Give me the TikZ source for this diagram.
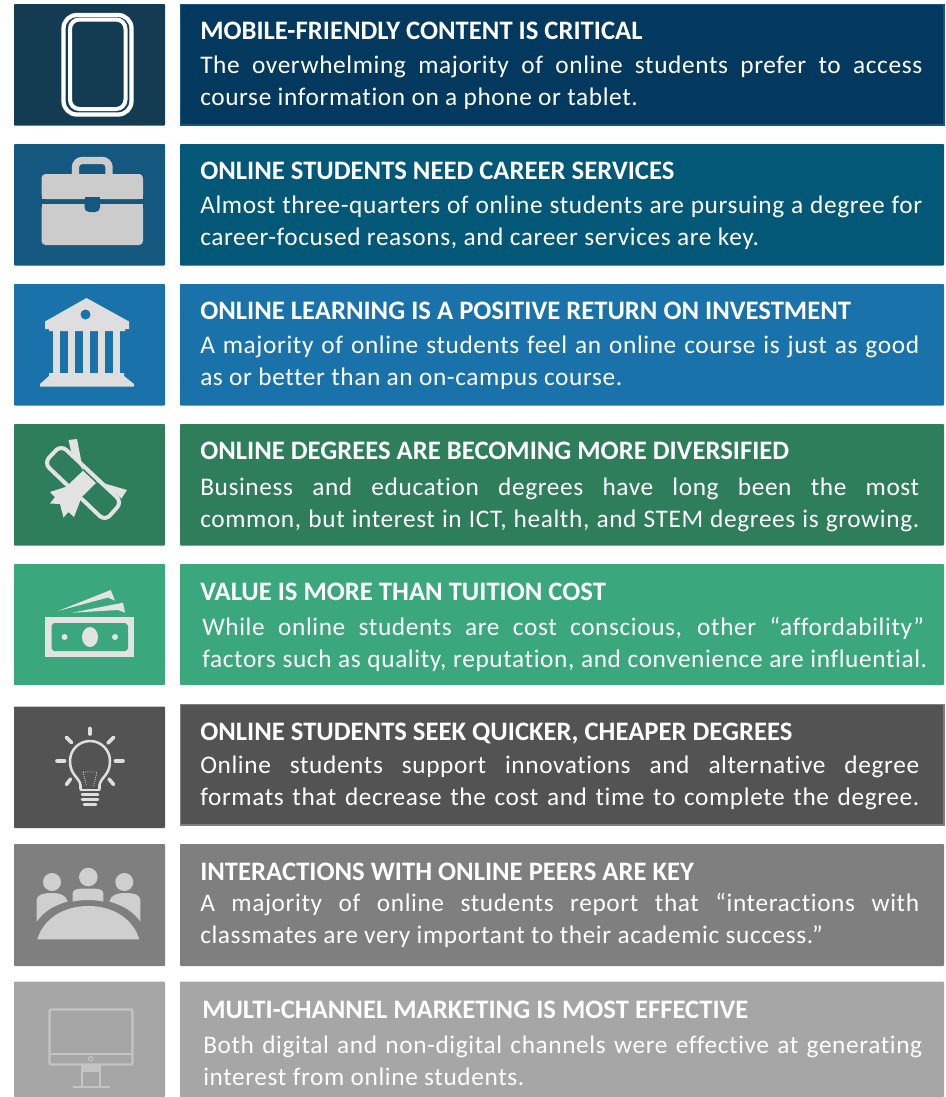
\documentclass[tikz,border=0pt]{standalone}
\usepackage{fontspec}
\setmainfont[Ligatures=NoCommon]{Carlito}
\newfontfamily\bodyf[LetterSpace=2.4,Ligatures=NoCommon]{Carlito}
\newcommand{\titlef}{\fontsize{20pt}{24pt}\selectfont\bfseries}
\newcommand{\bodysz}{\fontsize{19pt}{22pt}\bodyf}
\newcommand{\JL}[2]{\makebox[\dimexpr #1pt*3/4\relax][s]{#2}}
\definecolor{aL}{HTML}{133C53}\definecolor{aR}{HTML}{03395E}
\definecolor{bL}{HTML}{14587F}\definecolor{bR}{HTML}{035878}
\definecolor{cL}{HTML}{1A72AA}\definecolor{dL}{HTML}{2E7D5B}
\definecolor{eL}{HTML}{3AA87C}\definecolor{fL}{HTML}{535353}
\definecolor{gL}{HTML}{7F7F7F}\definecolor{hL}{HTML}{A6A6A6}
\tikzset{
  x=0.75pt,y=-0.75pt,
  ttl/.style={anchor=base west,inner sep=0pt,text=white,font=\titlef},
  bdy/.style={anchor=base west,inner sep=0pt,text=white,font=\bodysz},
  box/.style={rounded corners=0.7pt,line width=0pt},
}
\begin{document}
\begin{tikzpicture}
\useasboundingbox (0,0) rectangle (946,1097);
\fill[white] (0,0) rectangle (946,1097);
% left and right panels
\fill[aL,box] (14,4) rectangle (165,125.5);
\fill[bL,box] (14,144) rectangle (165,265.5);
\fill[cL,box] (14,284) rectangle (165,405.5);
\fill[dL,box] (14,424) rectangle (165,545.5);
\fill[eL,box] (14,564) rectangle (165,685);
\fill[fL,box] (14,706.5) rectangle (165,828);
\fill[gL,box] (14,844) rectangle (165,966);
\fill[hL,box] (14,981.5) rectangle (165,1097);
\filldraw[fill=aR,draw=bL,line width=1.2pt] (180.5,4.5) rectangle (944,125);
\fill[bR,box] (180,144) rectangle (944,265.5);
\fill[cL,box] (180,284) rectangle (944,405.5);
\fill[dL,box] (180,424) rectangle (944,545.5);
\fill[eL,box] (180,564) rectangle (944,685);
\filldraw[fill=fL,draw=gL,line width=1.2pt] (180.5,704.5) rectangle (944,825);
\fill[gL,box] (180,844) rectangle (944,966);
\fill[hL,box] (180,981.5) rectangle (944,1097);
% text
\node[ttl] (t1) at (200,39) {MOBILE-FRIENDLY CONTENT IS CRITICAL};
\node[bdy] (b1a) at (200,73.5) {\JL{722}{The overwhelming majority of online students prefer to access}};
\node[bdy] (b1b) at (200,105.5) {course information on a phone or tablet.};
\node[ttl] (t2) at (200,179) {ONLINE STUDENTS NEED CAREER SERVICES};
\node[bdy] (b2a) at (200,213.5) {\JL{722}{Almost three-quarters of online students are pursuing a degree for}};
\node[bdy] (b2b) at (200,245.5) {career-focused reasons, and career services are key.};
\node[ttl] (t3) at (200,319) {ONLINE LEARNING IS A POSITIVE RETURN ON INVESTMENT};
\node[bdy] (b3a) at (200,353.5) {\JL{719}{A majority of online students feel an online course is just as good}};
\node[bdy] (b3b) at (200,385.5) {as or better than an on-campus course.};
\node[ttl] (t4) at (200,459) {ONLINE DEGREES ARE BECOMING MORE DIVERSIFIED};
\node[bdy] (b4a) at (200,495.5) {\JL{719}{Business and education degrees have long been the most}};
\node[bdy] (b4b) at (200,527.5) {\JL{719}{common, but interest in ICT, health, and STEM degrees is growing.}};
\node[ttl] (t5) at (200,600) {VALUE IS MORE THAN TUITION COST};
\node[bdy] (b5a) at (202,635.5) {\JL{722}{While online students are cost conscious, other “affordability”}};
\node[bdy] (b5b) at (202,667.5) {\JL{725}{factors such as quality, reputation, and convenience are influential.}};
\node[ttl] (t6) at (200,740) {ONLINE STUDENTS SEEK QUICKER, CHEAPER DEGREES};
\node[bdy] (b6a) at (200,773.5) {\JL{719}{Online students support innovations and alternative degree}};
\node[bdy] (b6b) at (200,805.5) {\JL{719}{formats that decrease the cost and time to complete the degree.}};
\node[ttl] (t7) at (200,880) {INTERACTIONS WITH ONLINE PEERS ARE KEY};
\node[bdy] (b7a) at (200,911.5) {\JL{719}{A majority of online students report that “interactions with}};
\node[bdy] (b7b) at (200,943.5) {classmates are very important to their academic success.”};
\node[ttl] (t8) at (202,1018) {MULTI-CHANNEL MARKETING IS MOST EFFECTIVE};
\node[bdy] (b8a) at (203,1053.5) {\JL{719}{Both digital and non-digital channels were effective at generating}};
\node[bdy] (b8b) at (203,1085.5) {interest from online students.};
% phone
\draw[white,line width=3.2pt,rounded corners=10pt] (63.5,15) rectangle (131.5,114.5);
\draw[white,line width=3pt,rounded corners=7pt] (70,19.5) rectangle (125.5,109);
% briefcase
\fill[black!20,rounded corners=3pt] (41.5,174) rectangle (143,199);
\fill[black!20,rounded corners=3pt] (41.5,204) rectangle (143,245);
\fill[black!20] (41.5,195) rectangle (143,199);
\fill[black!20] (41.5,204) rectangle (143,208);
\draw[black!20,line width=5.5pt,rounded corners=5pt] (75.5,176) -- (75.5,160.5) -- (109,160.5) -- (109,176);
\fill[bL] (84.5,197) rectangle (100,205);
\fill[bL,rounded corners=3.5pt] (84.5,200) -- (84.5,212) -- (100,212) -- (100,200) -- cycle;
% bank
\fill[black!13] (86.5,298) -- (129,321.5) -- (129,329) -- (125,329) -- (125,331) -- (49,331) -- (49,329) -- (45,329) -- (45,321.5) -- cycle;
\fill[cL] (85.5,314.5) circle (5);
\foreach \cx in {53,68,83,98,112.7} \fill[black!13] (\cx,330) rectangle (\cx+7.4,374);
\fill[black!13] (49,373) -- (124,373) -- (124,376) -- (134,384) -- (134,386.5) -- (40,386.5) -- (40,384) -- (49,376) -- cycle;
% diploma
\draw[black!11,line width=3pt,rounded corners=5.5pt] (44,463) -- (61,445) -- (122,502) -- (105,521) -- cycle;
\fill[black!11] (68,485) -- (83,470.7) -- (96,483) -- (81.7,497) -- cycle;
\fill[black!11] (68.5,440) -- (77,439) -- (83,470) -- (71.5,453) -- cycle;
\fill[black!11] (96,481) -- (127,490) -- (121.5,498.5) -- (115,493) -- cycle;
\fill[black!11] (50,492) -- (68.5,486) -- (81.7,497) -- (74,517) -- (68.5,512) -- (63.5,517.5) -- (60,504) -- (50,503.5) -- (55,497) -- cycle;
% money
\fill[black!11] (45.3,616.7) rectangle (134,657);
\fill[eL] (54,623) -- (125.5,623) -- (128,625.5) -- (128,648.5) -- (125.5,651) -- (54,651) -- (51.5,648.5) -- (51.5,625.5) -- cycle;
\fill[black!11] (90,637) ellipse (8 and 10);
\fill[black!11] (64.5,637) circle (3);
\fill[black!11] (115,637) circle (3);
\fill[black!11] (58,611) -- (110.7,590) -- (115,600.7) -- (108,597.5) -- cycle;
\fill[black!11] (72,612.7) -- (123,602.7) -- (125,612.7) -- (118,610) -- cycle;
% bulb
\begin{scope}[black!13]
\draw[line width=1.9pt,line join=round] (80.5,789) -- (80.5,785) .. controls (79,777) and (70,775) .. (70,761) arc[start angle=180,end angle=360,radius=20] .. controls (110,775) and (101,777) .. (99.5,785) -- (99.5,789);
\draw[line width=1.9pt,line cap=round] (80.5,790) -- (99.5,790);
\foreach \ya/\wa in {794.5/16,799.5/16,804.5/12} \draw[line width=2.2pt,line cap=round] (90-\wa/2,\ya) -- (90+\wa/2,\ya);
\draw[line width=0.6pt,densely dotted] (83,772) -- (97,772) -- (93.5,786) (83,772) -- (86.5,786);
\draw[line width=2.7pt,line cap=round] (90,728.5) -- (90,734);
\draw[line width=2.7pt,line cap=round] (57,761) -- (64.5,761);
\draw[line width=2.7pt,line cap=round] (115.5,761) -- (123,761);
\draw[line width=2.7pt,line cap=round] (66.5,737.5) -- (71.5,742.5);
\draw[line width=2.7pt,line cap=round] (113.5,737.5) -- (108,743);
\draw[line width=2.7pt,line cap=round] (66.5,784.5) -- (70.5,779);
\draw[line width=2.7pt,line cap=round] (113.5,784.5) -- (109,779);
\end{scope}
% people
\fill[black!19] (37.3,939.3) .. controls (43,920) and (62,906) .. (88.3,906) .. controls (114.6,906) and (133.6,920) .. (139.3,939.3) -- cycle;
\fill[black!19] (52,882) circle (9);
\fill[black!19] (88.3,877) circle (9.3);
\fill[black!19] (124.3,882) circle (9);
\fill[black!19] (72.7,901.5) -- (72.7,893) .. controls (73,889) and (78,888.5) .. (88,888.5) .. controls (98,888.5) and (103,889) .. (103.3,893) -- (103.3,901.5) .. controls (93,899.5) and (83,899.5) .. (72.7,901.5) -- cycle;
\fill[black!19] (36.7,921.7) -- (36.7,900) .. controls (37,895) and (42,893) .. (52,893) .. controls (60,893) and (66,895) .. (67.7,901.5) .. controls (55,905) and (44,911) .. (36.7,921.7) -- cycle;
\fill[black!19] (140.3,921.7) -- (140.3,900) .. controls (140,895) and (135,893) .. (125,893) .. controls (117,893) and (111,895) .. (109.3,901.5) .. controls (122,905) and (133,911) .. (140.3,921.7) -- cycle;
% monitor
\begin{scope}[black!23]
\draw[line width=1.8pt,rounded corners=1pt] (49.5,1009.5) rectangle (132.5,1064.5);
\draw[line width=1.5pt] (49.5,1054) -- (132.5,1054);
\draw[line width=0.9pt] (90.7,1058.7) circle (2.2);
\fill (81,1065) rectangle (101,1072);
\draw[line width=1.5pt] (82,1072) -- (82,1086) (100,1072) -- (100,1086);
\draw[line width=1.8pt] (72.5,1087) -- (110,1087);
\end{scope}
\end{tikzpicture}
\end{document}
